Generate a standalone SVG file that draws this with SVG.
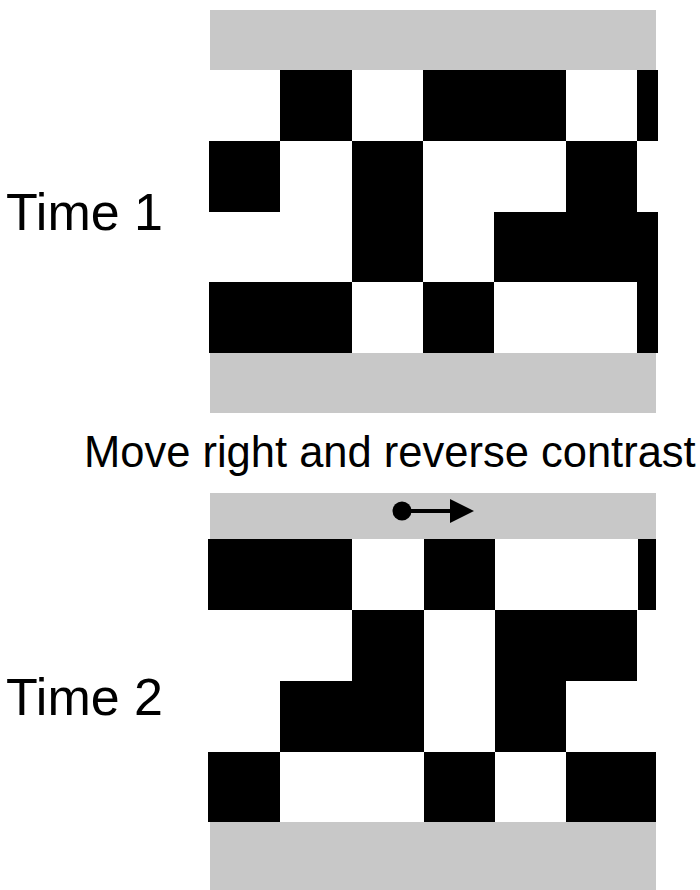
<svg xmlns="http://www.w3.org/2000/svg" width="700" height="890" viewBox="0 0 700 890">
<style>
.g{fill:#c8c8c8}
.w{fill:#ffffff}
.b{fill:#000000}
.t{font-family:"Liberation Sans",Arial,sans-serif;fill:#000}
</style>
<defs>
<marker id="ah" viewBox="0 0 10 10" refX="0" refY="5" markerWidth="6" markerHeight="6" markerUnits="strokeWidth" orient="auto">
<path d="M0,0 L10,5 L0,10 z" fill="#000"/>
</marker>
</defs>
<rect width="700" height="890" fill="#fff"/>
<g id="panel1">
<rect class="g" x="210" y="10" width="446" height="60"/>
<rect class="w" x="209" y="70" width="449" height="283"/>
<rect class="g" x="210" y="353" width="446" height="60"/>
<rect class="b" x="280" y="70" width="72" height="71"/>
<rect class="b" x="423" y="70" width="143" height="71"/>
<rect class="b" x="637" y="70" width="21" height="71"/>
<rect class="b" x="209" y="141" width="71" height="71"/>
<rect class="b" x="352" y="141" width="71" height="141"/>
<rect class="b" x="566" y="141" width="71" height="71"/>
<rect class="b" x="494" y="212" width="164" height="70"/>
<rect class="b" x="209" y="282" width="143" height="71"/>
<rect class="b" x="423" y="282" width="71" height="71"/>
<rect class="b" x="637" y="282" width="21" height="71"/>
</g>
<g id="panel2">
<rect class="g" x="210" y="493" width="446" height="46"/>
<rect class="w" x="208" y="539" width="448" height="283"/>
<rect class="g" x="210" y="822" width="446" height="68"/>
<rect class="b" x="208" y="539" width="144" height="71"/>
<rect class="b" x="424" y="539" width="71" height="71"/>
<rect class="b" x="638" y="539" width="18" height="71"/>
<rect class="b" x="352" y="610" width="72" height="142"/>
<rect class="b" x="495" y="610" width="142" height="71"/>
<rect class="b" x="280" y="681" width="144" height="71"/>
<rect class="b" x="495" y="681" width="71" height="71"/>
<rect class="b" x="208" y="752" width="72" height="70"/>
<rect class="b" x="424" y="752" width="71" height="70"/>
<rect class="b" x="566" y="752" width="90" height="70"/>
</g>
<g id="connectors">
<circle cx="402" cy="511" r="9.5" fill="#000"/>
<line x1="402" y1="511" x2="451" y2="511" stroke="#000" stroke-width="4"/>
<path d="M450,499 L474,511 L450,523 z" fill="#000"/>
</g>
<g id="labels">
<text class="t" x="6" y="230" font-size="52">Time 1</text>
<text class="t" x="6" y="715" font-size="52">Time 2</text>
<text class="t" x="84" y="467" font-size="43.5">Move right and reverse contrast</text>
</g>
</svg>
